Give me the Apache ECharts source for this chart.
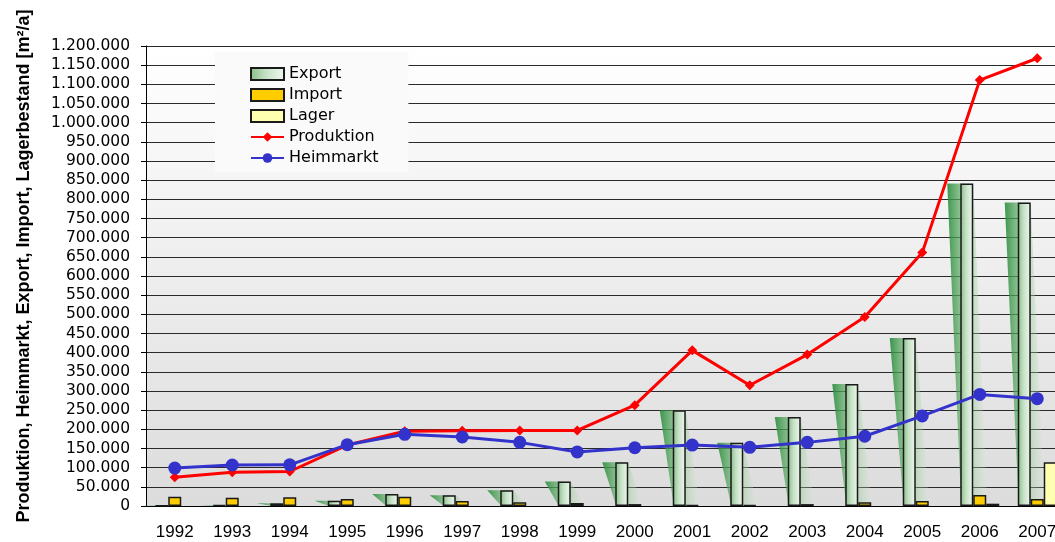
<!DOCTYPE html>
<html>
<head>
<meta charset="utf-8">
<script src="https://cdn.jsdelivr.net/npm/echarts@6/dist/echarts.min.js"></script>
<style>
  html, body { margin: 0; padding: 0; background: #ffffff; overflow: hidden; }
  #chart { width: 1070px; height: 542px; }
</style>
</head>
<body>
<div id="chart"></div>
<script>
// Jahre (Kategorien)
const years = ['1992', '1993', '1994', '1995', '1996', '1997', '1998', '1999',
  '2000', '2001', '2002', '2003', '2004', '2005', '2006', '2007'];

// Werte in m²/a
const exportVals = [1000, 2000, 7000, 14000, 31000, 28000, 41000, 64000,
  114000, 250000, 165000, 232000, 318000, 438000, 841000, 792000];
const importVals = [24000, 21500, 23000, 18000, 24000, 13000, 9500, 8000,
  5000, 2500, 2000, 5000, 9500, 13000, 28500, 18000];
const lagerVals = [null, null, null, null, null, null, null, null,
  null, null, null, null, null, null, 6000, 114000];
const produktionVals = [75000, 88000, 90000, 159000, 195000, 196000, 197000, 197000,
  263000, 406000, 315000, 395000, 493000, 661000, 1111000, 1168000];
const heimmarktVals = [99000, 107000, 107500, 160000, 187000, 180000, 166000, 141000,
  152000, 159000, 153000, 166000, 182000, 235000, 291000, 280000];

const yMin = 0;
const yMax = 1200000;
const yStep = 50000;

const chart = echarts.init(document.getElementById('chart'));
const G = echarts.graphic;

// Zahlen mit Tausenderpunkt
const fmt = (v) => String(v).replace(/\B(?=(\d{3})+(?!\d))/g, '.');

const BAR_W = 13;
const exportFill = new G.LinearGradient(0, 0, 1, 0, [
  { offset: 0, color: '#86bd86' },
  { offset: 0.45, color: '#c6e1c6' },
  { offset: 1, color: '#f0f8f0' }
]);

// der schraege "Schatten" hinter den Export-Balken
const shadowFill = new G.LinearGradient(0, 0, 1, 0, [
  { offset: 0, color: 'rgba(40,140,60,0.9)' },
  { offset: 0.5, color: 'rgba(120,185,120,0.55)' },
  { offset: 1, color: 'rgba(215,238,215,0.15)' }
]);

const option = {
  animation: false,
  backgroundColor: '#ffffff',
  textStyle: { fontFamily: 'DejaVu Sans' },
  grid: {
    left: 146,
    top: 46,
    right: 4,
    bottom: 36,
    show: true,
    borderWidth: 0,
    backgroundColor: new G.LinearGradient(0, 0, 0, 1, [
      { offset: 0, color: '#ffffff' },
      { offset: 1, color: '#dcdcdc' }
    ])
  },
  legend: {
    orient: 'vertical',
    left: 215,
    top: 52,
    padding: [14, 30, 6, 35],
    itemGap: 5,
    itemWidth: 33,
    itemHeight: 12,
    backgroundColor: '#fafafa',
    textStyle: { fontFamily: 'DejaVu Sans', fontSize: 16, color: '#000' },
    data: [
      { name: 'Export', icon: 'rect' },
      { name: 'Import', icon: 'rect' },
      { name: 'Lager', icon: 'rect' },
      'Produktion',
      'Heimmarkt'
    ]
  },
  xAxis: {
    type: 'category',
    data: years,
    axisLine: { lineStyle: { color: '#000', width: 1 } },
    axisTick: { length: 6, lineStyle: { color: '#000' } },
    axisLabel: {
      color: '#000',
      fontFamily: 'Liberation Sans',
      fontSize: 17,
      margin: 18
    }
  },
  yAxis: {
    type: 'value',
    min: yMin,
    max: yMax,
    interval: yStep,
    axisLine: { show: true, lineStyle: { color: '#000', width: 1 } },
    axisTick: { show: true, length: 5, lineStyle: { color: '#000' } },
    axisLabel: {
      color: '#000',
      fontFamily: 'DejaVu Sans',
      fontSize: 15.5,
      margin: 16,
      formatter: fmt
    },
    splitLine: { lineStyle: { color: '#2a2a2a', width: 1 } }
  },
  graphic: [{
    type: 'text',
    x: 24,
    y: 266,
    rotation: Math.PI / 2,
    style: {
      text: 'Produktion, Heimmarkt, Export, Import, Lagerbestand [m²/a]',
      font: 'bold 18px "Liberation Sans"',
      fill: '#000',
      align: 'center',
      verticalAlign: 'middle'
    }
  }],
  series: [
    {
      name: 'Schatten',
      type: 'custom',
      z: 1,
      silent: true,
      data: exportVals.map((v, i) => [i, v]),
      encode: { x: 0, y: 1 },
      renderItem: (params, api) => {
        const i = api.value(0);
        const top = api.coord([i, api.value(1)]);
        const base = api.coord([i, 0]);
        const L = top[0] - 1.5 * BAR_W;
        return {
          type: 'polygon',
          shape: {
            points: [
              [L - 13, top[1]], [L + 13, top[1]],
              [L + 27, base[1]], [L + 1, base[1]]
            ]
          },
          style: { fill: shadowFill }
        };
      }
    },
    {
      name: 'Export',
      type: 'bar',
      z: 2,
      barWidth: BAR_W,
      barGap: '0%',
      itemStyle: { color: exportFill, borderColor: '#1a1a1a', borderWidth: 1.5 },
      data: exportVals
    },
    {
      name: 'Import',
      type: 'bar',
      z: 2,
      barWidth: BAR_W,
      barGap: '0%',
      itemStyle: { color: '#ffcc00', borderColor: '#1a1a1a', borderWidth: 1.5 },
      data: importVals
    },
    {
      name: 'Lager',
      type: 'bar',
      z: 2,
      barWidth: BAR_W,
      barGap: '0%',
      itemStyle: { color: '#ffffb0', borderColor: '#1a1a1a', borderWidth: 1.5 },
      data: lagerVals
    },
    {
      name: 'Produktion',
      type: 'line',
      z: 3,
      symbol: 'diamond',
      symbolSize: 10,
      lineStyle: { color: '#ff0000', width: 3 },
      itemStyle: { color: '#ff0000' },
      data: produktionVals
    },
    {
      name: 'Heimmarkt',
      type: 'line',
      z: 4,
      symbol: 'circle',
      symbolSize: 13,
      lineStyle: { color: '#3333cc', width: 3 },
      itemStyle: { color: '#3333cc' },
      data: heimmarktVals
    }
  ]
};

chart.setOption(option);
</script>
</body>
</html>
